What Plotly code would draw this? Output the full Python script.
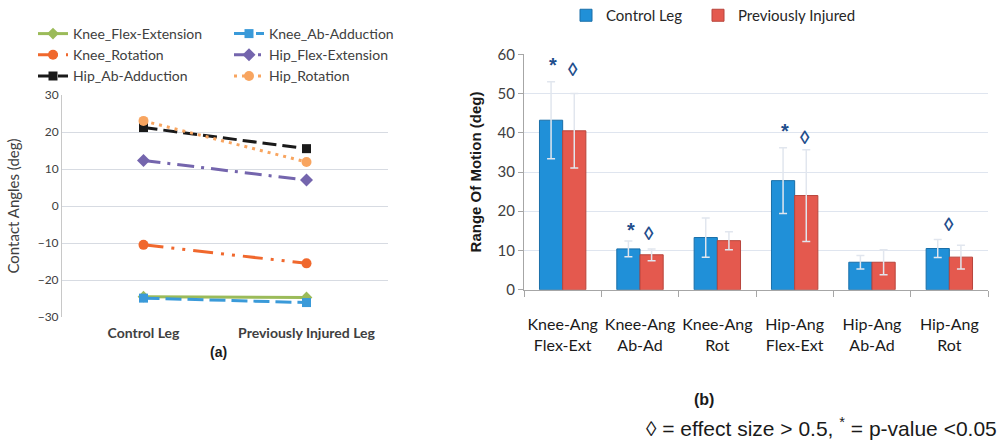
import plotly.graph_objects as go

# ---------------- data : panel (a) ----------------
legs = ["Control Leg", "Previously Injured Leg"]
knee_flex_ext = [-24.5, -24.7]
knee_ab_add = [-24.9, -26.1]
knee_rot = [-10.5, -15.5]
hip_flex_ext = [12.3, 7.0]
hip_ab_add = [21.2, 15.5]
hip_rot = [23.0, 11.9]
a_ticks = [-30, -20, -10, 0, 10, 20, 30]

# ---------------- data : panel (b) ----------------
joints = ["Knee-Ang<br>Flex-Ext", "Knee-Ang<br>Ab-Ad", "Knee-Ang<br>Rot",
          "Hip-Ang<br>Flex-Ext", "Hip-Ang<br>Ab-Ad", "Hip-Ang<br>Rot"]
control_rom = [43.2, 10.4, 13.3, 27.8, 7.0, 10.5]
control_sd = [9.8, 2.0, 5.0, 8.4, 1.7, 2.3]
injured_rom = [40.5, 8.9, 12.5, 24.0, 7.0, 8.3]
injured_sd = [9.5, 1.5, 2.3, 11.7, 3.2, 3.0]
b_ticks = [0, 10, 20, 30, 40, 50, 60]

# significance marks
sig_joint = [joints[0], joints[0], joints[1], joints[1], joints[3], joints[3], joints[5]]
sig_y = [57.3, 56.2, 15.2, 14.2, 40.4, 38.9, 16.5]
sig_text = ["*", "◊", "*", "◊", "*", "◊", "◊"]
sig_shift = [-10, 10, -9, 9, -10, 10, 0]

FONT = "Lato, 'Liberation Sans Narrow', sans-serif"
ARIAL = "'Liberation Sans', Arial, sans-serif"

fig = go.Figure()

# ---------------- panel (a) lines ----------------
series = [
    ("Knee_Flex-Extension", knee_flex_ext, "#9bbb59", "solid", "diamond", 9, "legend"),
    ("Knee_Ab-Adduction", knee_ab_add, "#3a9ad9", "16px,6px", "square", 9, "legend2"),
    ("Knee_Rotation", knee_rot, "#f0682d", "20px,8px,3px,8px,3px,8px", "circle", 10, "legend"),
    ("Hip_Flex-Extension", hip_flex_ext, "#7465ad", "17px,7px,3px,7px", "diamond", 10, "legend2"),
    ("Hip_Ab-Adduction", hip_ab_add, "#1a1a1a", "14px,6px", "square", 9, "legend"),
    ("Hip_Rotation", hip_rot, "#f8a560", "3px,5px", "circle", 10, "legend2"),
]
for name, vals, col, dash, sym, size, lg in series:
    fig.add_trace(go.Scatter(
        x=legs, y=vals, name=name, mode="lines+markers",
        line=dict(color=col, width=3, dash=dash),
        marker=dict(color=col, symbol=sym, size=size),
        xaxis="x", yaxis="y", legend=lg))

# ---------------- panel (b) bars ----------------
fig.add_trace(go.Bar(
    x=joints, y=control_rom, name="Control Leg",
    marker=dict(color="#2090d8", line=dict(color="#1a6fa8", width=1)),
    error_y=dict(type="data", array=control_sd, color="#e1e6ee", thickness=1.5, width=4),
    xaxis="x2", yaxis="y2", legend="legend3"))
fig.add_trace(go.Bar(
    x=joints, y=injured_rom, name="Previously Injured",
    marker=dict(color="#e4594e", line=dict(color="#b8453c", width=1)),
    error_y=dict(type="data", array=injured_sd, color="#e1e6ee", thickness=1.5, width=4),
    xaxis="x2", yaxis="y2", legend="legend4"))

for j, yv, t, s in zip(sig_joint, sig_y, sig_text, sig_shift):
    fig.add_annotation(x=j, y=yv, text="<b>%s</b>" % t, xref="x2", yref="y2",
                       xshift=s, showarrow=False,
                       font=dict(family=ARIAL, size=19 if t == "◊" else 20, color="#1f4e8c"))

W, H = 1003, 443
bar_legend = dict(y=1 + 1 / H, xanchor="left", yanchor="top", orientation="h",
                  bgcolor="rgba(0,0,0,0)", itemwidth=30,
                  font=dict(family=FONT, size=15, color="#262626"))

fig.update_layout(
    width=W, height=H, margin=dict(l=0, r=0, t=0, b=0, autoexpand=False),
    paper_bgcolor="white", plot_bgcolor="white",
    font=dict(family=FONT, color="#404040"),
    barmode="group", bargap=0.4, bargroupgap=0,
    showlegend=True,
    xaxis=dict(domain=[62 / W, 388 / W], type="category", range=[-0.5, 1.5],
               showgrid=False, showline=False, zeroline=False, ticks="",
               tickfont=dict(family=FONT, size=14, color="#404040", weight="bold"),
               ticklabelstandoff=6, automargin=False),
    yaxis=dict(domain=[1 - 317 / H, 1 - 95 / H], range=[-30, 30], tickvals=a_ticks,
               showgrid=True, gridcolor="#d7dbe2", gridwidth=1.3, zeroline=False,
               showline=True, linecolor="#c8c8c8", ticks="", automargin=False,
               tickfont=dict(family=FONT, size=12, color="#404040"),
               title=dict(text="Contact Angles (deg)", standoff=14,
                          font=dict(family=FONT, size=15, color="#404040"))),
    xaxis2=dict(domain=[524 / W, 988 / W], type="category", anchor="y2",
                showgrid=False, showline=True, linecolor="#a6a6a6", linewidth=1,
                ticks="outside", tickson="boundaries", ticklen=6, tickcolor="#a6a6a6",
                tickangle=0,
                tickfont=dict(family=FONT, size=16, color="#1a1a1a"),
                ticklabelstandoff=20, automargin=False),
    yaxis2=dict(domain=[1 - 289.7 / H, 1 - 54.3 / H], range=[0, 60], tickvals=b_ticks,
                anchor="x2", showgrid=True, gridcolor="#dfe5ef", gridwidth=1.3,
                zeroline=False, showline=True, linecolor="#a6a6a6",
                ticks="outside", ticklen=5, tickcolor="#a6a6a6", automargin=False,
                tickfont=dict(family=FONT, size=15, color="#404040"),
                title=dict(text="<b>Range Of Motion (deg)</b>", standoff=12,
                           font=dict(family=ARIAL, size=15, color="#1a1a1a"))),
    legend=dict(x=33 / W, y=1 - 18 / H, xanchor="left", yanchor="top",
                orientation="v", bgcolor="rgba(0,0,0,0)",
                font=dict(family=FONT, size=14, color="#404040"), tracegroupgap=0),
    legend2=dict(x=229 / W, y=1 - 18 / H, xanchor="left", yanchor="top",
                 orientation="v", bgcolor="rgba(0,0,0,0)",
                 font=dict(family=FONT, size=14, color="#404040"), tracegroupgap=0),
    legend3=dict(x=566 / W, **bar_legend),
    legend4=dict(x=698 / W, **bar_legend),
)

fig.add_annotation(text="<b>(a)</b>", x=208 / W, y=1 - 352 / H, xref="paper", yref="paper",
                   yanchor="middle", showarrow=False,
                   font=dict(family=ARIAL, size=14, color="#1a1a1a"))
fig.add_annotation(text="<b>(b)</b>", x=716 / W, y=1 - 399 / H, xref="paper", yref="paper",
                   yanchor="middle", showarrow=False,
                   font=dict(family=ARIAL, size=16, color="#1a1a1a"))
fig.add_annotation(text="◊ = effect size &gt; 0.5, <sup>*</sup> = p-value &lt;0.05",
                   x=644 / W, y=1 - 427 / H, xref="paper", yref="paper",
                   xanchor="left", yanchor="middle", showarrow=False,
                   font=dict(family=ARIAL, size=21, color="#1a1a1a"))

fig.write_html("out.html", config={"displayModeBar": False},
               post_script="document.body.style.margin='0px';")
